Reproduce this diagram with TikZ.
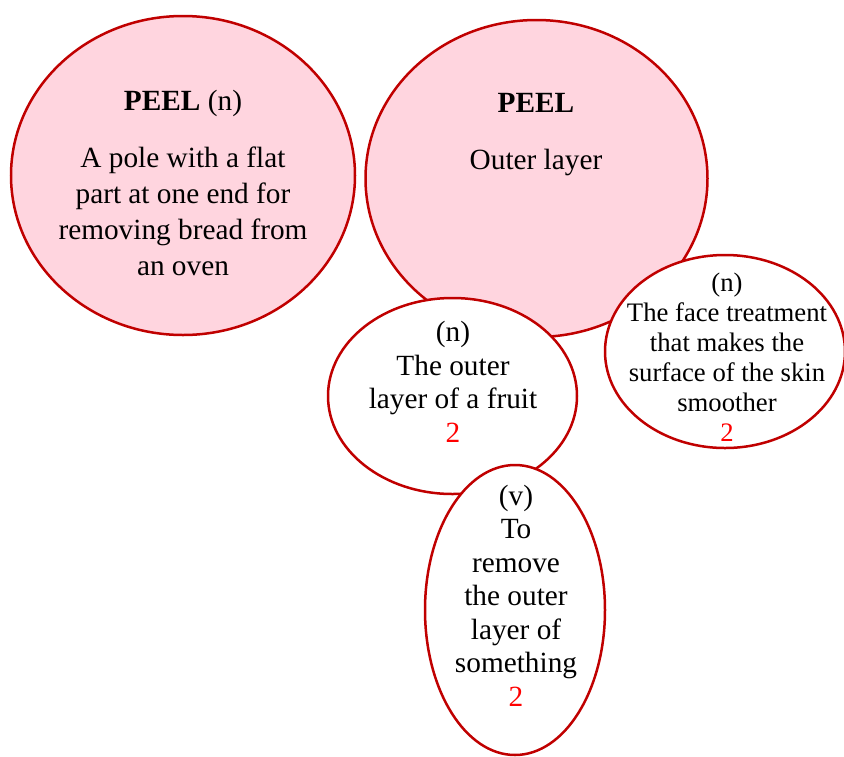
\documentclass[tikz,border=0pt]{standalone}
\usepackage{fontspec}
\setmainfont{Liberation Serif}
\usetikzlibrary{shapes.geometric}

\definecolor{rim}{RGB}{192,0,0}
\definecolor{blush}{RGB}{255,213,223}
\definecolor{countred}{RGB}{255,0,0}

% centred block of lines whose reference point is the first baseline
\newcommand{\linesblock}[1]{\begin{tabular}[t]{@{}c@{}}#1\end{tabular}}
\newcommand{\countmark}[1]{{\color{countred}#1}}

\begin{document}
\begin{tikzpicture}[x=1pt,y=-1pt,
  bubble/.style={ellipse, draw=rim, line width=2.5pt, inner sep=0pt, fill=white},
  pinkbubble/.style={bubble, fill=blush},
  blocktext/.style={anchor=base, inner sep=0pt},
  bigfont/.style={font=\fontsize{29.3}{36.3}\selectfont},
  midfont/.style={font=\fontsize{29.3}{33.5}\selectfont},
  smallfont/.style={font=\fontsize{26.7}{30}\selectfont}
]
\useasboundingbox (0,0) rectangle (844,756);

% the two headword ellipses
\node[pinkbubble, minimum width=344pt, minimum height=319pt] (breadOval) at (183,175.5) {};
\node[pinkbubble, minimum width=342pt, minimum height=317pt] (layerOval) at (536.5,178.5) {};

% sense ellipses, later ones drawn over earlier ones
\node[bubble, minimum width=240pt, minimum height=193pt] (faceOval) at (725,351.5) {};
\node[bubble, minimum width=249pt, minimum height=196pt] (fruitOval) at (452.5,396) {};
\node[bubble, minimum width=180pt, minimum height=290pt] (verbOval) at (515,610) {};

% texts
\node[blocktext, bigfont] (breadText) at (183,110)
  {\linesblock{\textbf{PEEL} (n)\\[20.7pt] A pole with a flat\\ part at one end for\\ removing bread from\\ an oven}};
\node[blocktext, bigfont] (layerText) at (536,112)
  {\linesblock{\textbf{PEEL}\\[20.7pt] Outer layer}};
\node[blocktext, midfont] (fruitText) at (453,341.7)
  {\linesblock{(n)\\ The outer\\ layer of a fruit\\ \countmark{2}}};
\node[blocktext, smallfont] (faceText) at (727,291.7)
  {\linesblock{(n)\\ The face treatment\\ that makes the\\ surface of the skin\\ smoother\\ \countmark{2}}};
\node[blocktext, midfont] (verbText) at (516,505)
  {\linesblock{(v)\\ To\\ remove\\ the outer\\ layer of\\ something\\ \countmark{2}}};
\end{tikzpicture}
\end{document}
